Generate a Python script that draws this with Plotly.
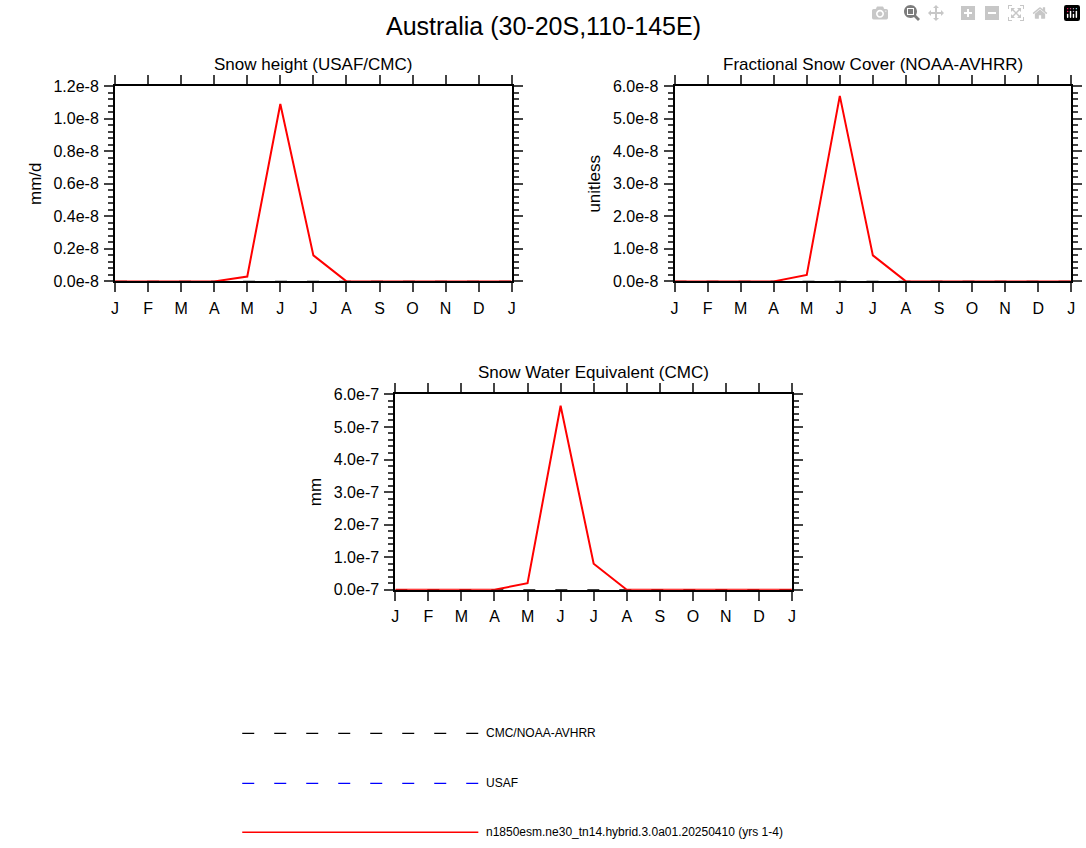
import plotly.graph_objects as go

months = ["J", "F", "M", "A", "M", "J", "J", "A", "S", "O", "N", "D", "J"]
xpos = list(range(13))

# model (red), values per month, Jan repeated at end
snow_height = [0, 0, 0, 0, 0.03e-8, 1.09e-8, 0.16e-8, 0, 0, 0, 0, 0, 0]
snow_cover = [0, 0, 0, 0, 0.2e-8, 5.7e-8, 0.8e-8, 0, 0, 0, 0, 0, 0]
swe = [0, 0, 0, 0, 0.2e-7, 5.65e-7, 0.8e-7, 0, 0, 0, 0, 0, 0]
obs_zero = [0] * 13

panels = [
    dict(title="Snow height (USAF/CMC)", ylab="mm/d", y=snow_height, ymax=1.2e-8,
         ticks=[0, 0.2e-8, 0.4e-8, 0.6e-8, 0.8e-8, 1.0e-8, 1.2e-8],
         text=["0.0e-8", "0.2e-8", "0.4e-8", "0.6e-8", "0.8e-8", "1.0e-8", "1.2e-8"],
         minor=0.04e-8, xd=[0.103, 0.471], yd=[0.671, 0.906]),
    dict(title="Fractional Snow Cover (NOAA-AVHRR)", ylab="unitless", y=snow_cover, ymax=6e-8,
         ticks=[0, 1e-8, 2e-8, 3e-8, 4e-8, 5e-8, 6e-8],
         text=["0.0e-8", "1.0e-8", "2.0e-8", "3.0e-8", "4.0e-8", "5.0e-8", "6.0e-8"],
         minor=0.2e-8, xd=[0.622, 0.990], yd=[0.671, 0.906]),
    dict(title="Snow Water Equivalent (CMC)", ylab="mm", y=swe, ymax=6e-7,
         ticks=[0, 1e-7, 2e-7, 3e-7, 4e-7, 5e-7, 6e-7],
         text=["0.0e-7", "1.0e-7", "2.0e-7", "3.0e-7", "4.0e-7", "5.0e-7", "6.0e-7"],
         minor=0.2e-7, xd=[0.363, 0.731], yd=[0.300, 0.535]),
]

font = "Liberation Sans, Arial, sans-serif"
dash_pat = "12px,20px"
fig = go.Figure()
annotations = []
for i, p in enumerate(panels, start=1):
    s = "" if i == 1 else str(i)
    fig.add_trace(go.Scatter(x=xpos, y=obs_zero, mode="lines", xaxis="x" + s, yaxis="y" + s,
                             line=dict(color="black", width=1.2, dash=dash_pat), showlegend=False))
    fig.add_trace(go.Scatter(x=xpos, y=p["y"], mode="lines", xaxis="x" + s, yaxis="y" + s,
                             line=dict(color="red", width=2), showlegend=False))
    fig.layout["xaxis" + s] = dict(domain=p["xd"], range=[0, 12], tickvals=xpos, ticktext=months,
                                   ticks="outside", ticklen=9, tickwidth=1.5, mirror="allticks",
                                   showline=True, linecolor="black", linewidth=2, showgrid=False,
                                   zeroline=False, anchor="y" + s, tickfont=dict(size=16),
                                   ticklabelstandoff=2)
    fig.layout["yaxis" + s] = dict(domain=p["yd"], range=[0, p["ymax"]], tickvals=p["ticks"],
                                   ticktext=p["text"], ticks="outside", ticklen=9, tickwidth=1.5,
                                   mirror="allticks", showline=True, linecolor="black",
                                   linewidth=2, showgrid=False, zeroline=False, anchor="x" + s,
                                   tickfont=dict(size=16), ticklabelstandoff=2,
                                   title=dict(text=p["ylab"], font=dict(size=17), standoff=8),
                                   minor=dict(dtick=p["minor"], ticks="outside", ticklen=5,
                                              tick0=0, showgrid=False))
    annotations.append(dict(text=p["title"], x=sum(p["xd"]) / 2, y=p["yd"][1] + 0.012,
                            xref="paper", yref="paper", xanchor="center", yanchor="bottom",
                            showarrow=False, font=dict(size=17)))

annotations.append(dict(text="Australia (30-20S,110-145E)", x=0.5, y=0.998, xref="paper",
                        yref="paper", xanchor="center", yanchor="top", showarrow=False,
                        font=dict(size=25)))

# legend at bottom
legend_items = [("CMC/NOAA-AVHRR", "black", dash_pat), ("USAF", "blue", dash_pat),
                ("n1850esm.ne30_tn14.hybrid.3.0a01.20250410 (yrs 1-4)", "red", "solid")]
legend_y = [0.127, 0.067, 0.008]
shapes = []
for (lab, col, dash), ly in zip(legend_items, legend_y):
    shapes.append(dict(type="line", xref="paper", yref="paper", x0=0.221, x1=0.440, y0=ly, y1=ly,
                       line=dict(color=col, width=1.2 if dash != "solid" else 1.5, dash=dash)))
    annotations.append(dict(text=lab, x=0.445, y=ly, xref="paper", yref="paper", xanchor="left",
                            yanchor="middle", showarrow=False, font=dict(size=12)))

fig.update_layout(width=1086, height=848, margin=dict(l=0, r=0, t=0, b=0),
                  plot_bgcolor="white", paper_bgcolor="white",
                  font=dict(family=font, color="black"), annotations=annotations, shapes=shapes)
fig.write_html("out.html", post_script="document.body.style.margin='0';")
